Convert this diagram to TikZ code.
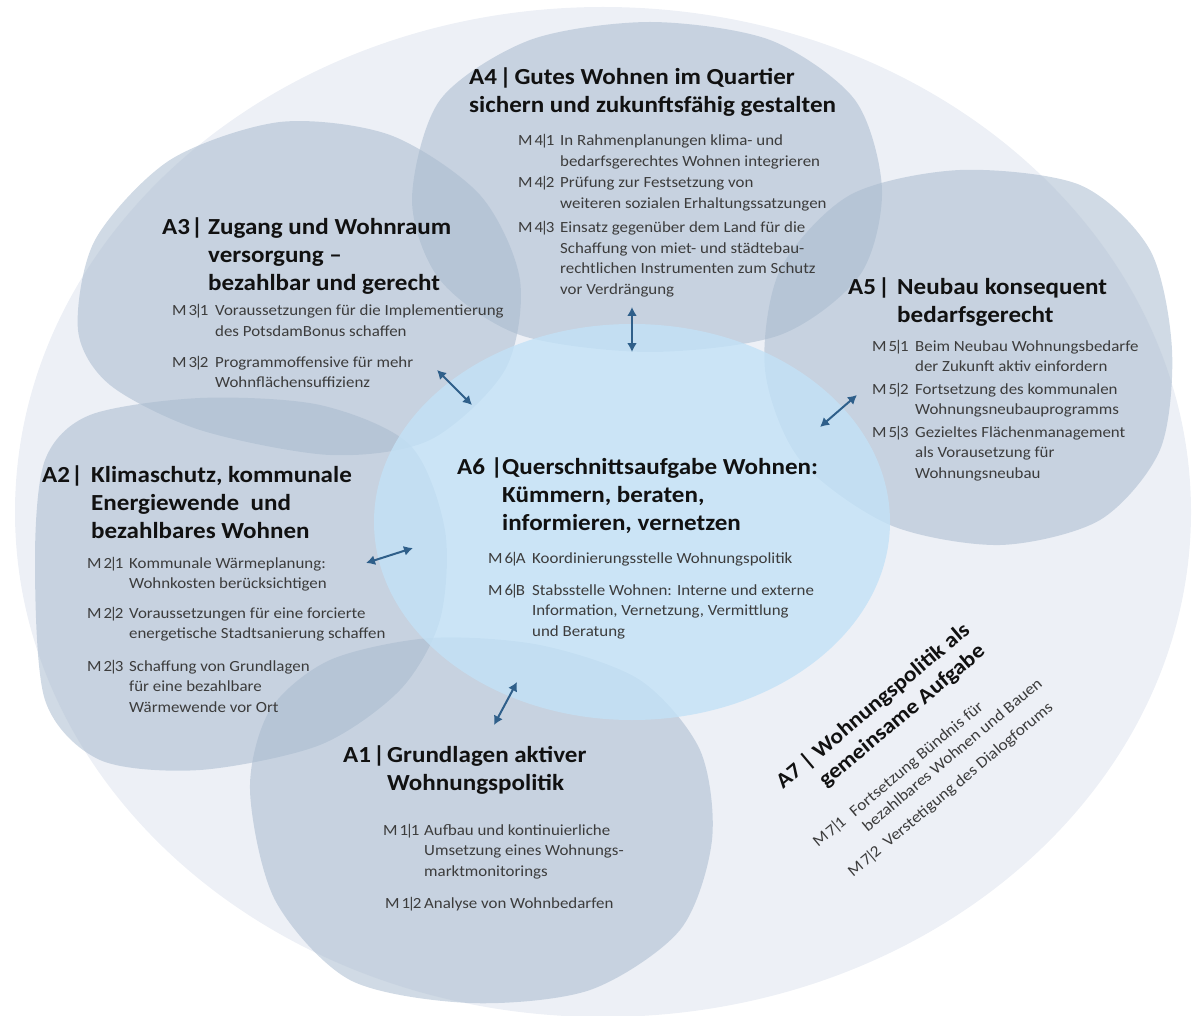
\documentclass[tikz,border=0pt]{standalone}
\usepackage{fontspec}
\setmainfont{Carlito}[FakeStretch=1.09]
\usetikzlibrary{arrows.meta}
\definecolor{outerc}{HTML}{EDF0F6}
\definecolor{blobc}{HTML}{A9BBCF}
\definecolor{centerc}{HTML}{C3E2F7}
\definecolor{arrowc}{HTML}{2F5F8A}
\definecolor{bodyc}{HTML}{3C3C3C}
\definecolor{titlec}{HTML}{111111}
\newcommand\lbl[2]{M\kern2pt#1\kern-2.5pt|\kern-2.5pt#2}
\newcommand\mitem[3]{\begin{tabular}[t]{@{}l@{}l@{}}\makebox[#1][l]{#2} & #3\end{tabular}}
\newcommand\htitle[3]{\begin{tabular}[t]{@{}l@{}l@{}}\makebox[#1][l]{#2} & #3\end{tabular}}
\tikzset{
  blob/.style={fill=blobc, fill opacity=0.55, draw=none},
  ttl/.style={inner sep=0pt, anchor=base west, text=titlec,
    font=\fontsize{23}{28}\selectfont\bfseries},
  itm/.style={inner sep=0pt, anchor=base west, text=bodyc,
    font=\fontsize{15.5}{20.5}\selectfont},
  biarrow/.style={draw=arrowc, line width=2pt,
    {Latex[length=9pt,width=10pt]}-{Latex[length=9pt,width=10pt]}},
}
\begin{document}
\begin{tikzpicture}[x=1pt,y=-1pt]
\useasboundingbox (0,0) rectangle (1194,1016);
% outer circle
\fill[outerc] (603,512) ellipse [x radius=588, y radius=505];
% blobs
\fill[blob] plot[smooth cycle] coordinates {(412,200) (440,100) (530,40) (650,22) (770,40) (855,100) (882,190) (860,275) (780,335) (650,352) (520,335) (440,280)};
\fill[blob] plot[smooth cycle] coordinates {(78,330) (95,240) (170,160) (280,122) (390,135) (480,195) (520,280) (505,370) (430,440) (330,455) (200,430) (110,385)};
\fill[blob] plot[smooth cycle] coordinates {(765,370) (780,270) (850,195) (960,170) (1080,185) (1150,250) (1172,350) (1160,450) (1100,520) (1000,545) (890,525) (800,460)};
\fill[blob] plot[smooth cycle] coordinates {(35,560) (45,460) (90,415) (200,398) (320,405) (410,445) (445,530) (440,620) (400,690) (320,745) (200,770) (100,760) (45,700)};
\fill[blob] plot[smooth cycle] coordinates {(250,790) (270,710) (330,660) (430,638) (540,645) (640,680) (700,750) (712,840) (680,930) (590,990) (470,1003) (350,980) (275,900)};
% centre
\fill[centerc, fill opacity=0.8] (632,522) ellipse [x radius=258, y radius=198];
% arrow end points
\coordinate (p4a) at (632,307); \coordinate (p4b) at (632,352);
\coordinate (p3a) at (437,370); \coordinate (p3b) at (472,405);
\coordinate (p5a) at (857,395); \coordinate (p5b) at (820,427);
\coordinate (p2a) at (366,563); \coordinate (p2b) at (413,548);
\coordinate (p1a) at (517,682); \coordinate (p1b) at (494,725);
\draw[biarrow] (p4a) -- (p4b);
\draw[biarrow] (p3a) -- (p3b);
\draw[biarrow] (p5a) -- (p5b);
\draw[biarrow] (p2a) -- (p2b);
\draw[biarrow] (p1a) -- (p1b);
% A4
\node[ttl] (a4t) at (469,85) {\begin{tabular}[t]{@{}l@{}}A4\kern2.5pt|\kern3pt Gutes Wohnen im Quartier\\ sichern und zukunftsfähig gestalten\end{tabular}};
\node[itm] (m41) at (518,146) {\mitem{42pt}{\lbl{4}{1}}{In Rahmenplanungen klima- und\\ & bedarfsgerechtes Wohnen integrieren}};
\node[itm] (m42) at (518,188) {\mitem{42pt}{\lbl{4}{2}}{Prüfung zur Festsetzung von\\ & weiteren sozialen Erhaltungssatzungen}};
\node[itm] (m43) at (518,233) {\mitem{42pt}{\lbl{4}{3}}{Einsatz gegenüber dem Land für die\\ & Schaffung von miet- und städtebau-\\ & rechtlichen Instrumenten zum Schutz\\ & vor Verdrängung}};
% A3
\node[ttl] (a3t) at (162,235) {\htitle{46pt}{A3\kern1pt|}{Zugang und Wohnraum\\ & versorgung –\\ & bezahlbar und gerecht}};
\node[itm] (m31) at (172,316) {\mitem{43pt}{\lbl{3}{1}}{Voraussetzungen für die Implementierung\\ & des PotsdamBonus schaffen}};
\node[itm] (m32) at (172,367) {\mitem{43pt}{\lbl{3}{2}}{Programmoffensive für mehr\\ & Wohnflächensuffizienz}};
% A5
\node[ttl] (a5t) at (848,295) {\htitle{49pt}{A5\kern2pt|}{Neubau konsequent\\ & bedarfsgerecht}};
\node[itm] (m51) at (872,351) {\mitem{43pt}{\lbl{5}{1}}{Beim Neubau Wohnungsbedarfe\\ & der Zukunft aktiv einfordern}};
\node[itm] (m52) at (872,394) {\mitem{43pt}{\lbl{5}{2}}{Fortsetzung des kommunalen\\ & Wohnungsneubauprogramms}};
\node[itm] (m53) at (872,437) {\mitem{43pt}{\lbl{5}{3}}{Gezieltes Flächenmanagement\\ & als Vorausetzung für\\ & Wohnungsneubau}};
% A2
\node[ttl] (a2t) at (42,482) {\htitle{49pt}{A2\kern1pt|}{Klimaschutz, kommunale\\ & Energiewende\ \ und\\ & bezahlbares Wohnen}};
\node[itm] (m21) at (87,568) {\mitem{42pt}{\lbl{2}{1}}{Kommunale Wärmeplanung:\\ & Wohnkosten berücksichtigen}};
\node[itm] (m22) at (87,618) {\mitem{42pt}{\lbl{2}{2}}{Voraussetzungen für eine forcierte\\ & energetische Stadtsanierung schaffen}};
\node[itm] (m23) at (87,671) {\mitem{42pt}{\lbl{2}{3}}{Schaffung von Grundlagen\\ & für eine bezahlbare\\ & Wärmewende vor Ort}};
% A6
\node[ttl] (a6t) at (457,474) {\htitle{45pt}{A6 |}{Querschnittsaufgabe Wohnen:\\ & Kümmern, beraten,\\ & informieren, vernetzen}};
\node[itm] (m6a) at (488,563) {\mitem{44pt}{\lbl{6}{A}}{Koordinierungsstelle Wohnungspolitik}};
\node[itm] (m6b) at (488,595) {\mitem{44pt}{\lbl{6}{B}}{Stabsstelle Wohnen: Interne und externe\\ & Information, Vernetzung, Vermittlung\\ & und Beratung}};
% A1
\node[ttl] (a1t) at (343,762) {\htitle{44pt}{A1\kern2pt|}{Grundlagen aktiver\\ & Wohnungspolitik}};
\node[itm] (m11) at (383,835) {\mitem{41pt}{\lbl{1}{1}}{Aufbau und kontinuierliche\\ & Umsetzung eines Wohnungs-\\ & marktmonitorings}};
\node[itm] (m12) at (385,908) {\mitem{39pt}{\lbl{1}{2}}{Analyse von Wohnbedarfen}};
% A7
\node[ttl, rotate=40, font=\fontsize{21.5}{26}\selectfont\bfseries] (a7t) at (783,790) {\begin{tabular}[t]{@{}l@{}}A7 | Wohnungspolitik als\\ \hspace{34pt}gemeinsame Aufgabe\end{tabular}};
\node[itm, rotate=40, font=\fontsize{16}{20}\selectfont] (m7) at (818,848) {\begin{tabular}[t]{@{}l@{}l@{}}\makebox[48pt][l]{\lbl{7}{1}} & Fortsetzung Bündnis für\\ & bezahlbares Wohnen und Bauen\\[5pt] \hspace{8pt}\lbl{7}{2} & \hspace{6pt}Verstetigung des Dialogforums\end{tabular}};
\end{tikzpicture}
\end{document}
